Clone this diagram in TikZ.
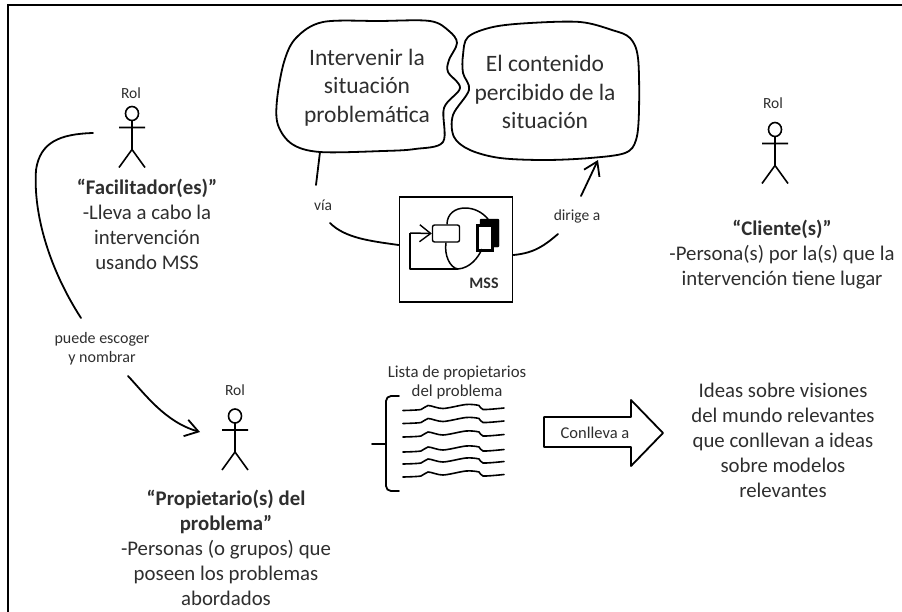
\documentclass[tikz,border=0pt]{standalone}
\usepackage{fontspec}
\setmainfont{Carlito}
\usetikzlibrary{arrows.meta}
\definecolor{ink}{HTML}{2E2E2E}
\tikzset{
  txt/.style={text=ink,align=center,inner sep=0pt,font=\fontsize{20.8}{25}\selectfont},
  big/.style={text=ink,align=center,inner sep=0pt,font=\fontsize{23.5}{28.5}\selectfont},
  small/.style={text=ink,align=center,inner sep=0pt,font=\fontsize{16}{19}\selectfont},
  rol/.style={text=ink,inner sep=0pt,font=\fontsize{15.5}{17}\selectfont},
  pen/.style={draw=black,line width=1.8pt,line join=round,line cap=round},
  barb/.style={-{Straight Barb[length=13pt,width=17pt,line width=1.8pt]}},
  actor/.pic={
    \draw[line width=1.6pt,fill=white] (0,0) circle[x radius=6.5,y radius=7];
    \draw[line width=1.6pt] (0,7)--(0,36) (-13,14)--(13,14) (-13,54)--(0,36)--(13,54);
  },
  wave/.pic={
    \draw[line width=1.6pt,line cap=round] plot[smooth,tension=0.5] coordinates {(0,0)(18,-1)(25,-5)(40,-2)(63,-6)(76,-5)(80,-1)(101,-2.5)};
  }
}
\begin{document}
\begin{tikzpicture}[x=1pt,y=-1pt]
\useasboundingbox (0,0) rectangle (902,611);
% frame
\coordinate (frameTL) at (8,5);
\coordinate (frameTR) at (902,5);
\coordinate (frameBL) at (8,611);
\draw[line width=2pt,line cap=rect] (frameBL)--(frameTL)--(frameTR);

% bubbles
\draw[pen] plot[smooth cycle,tension=0.55] coordinates {(323,22)(380,21)(430,21)(449,31)(457,43)(449,60)(448,72)(460,88)(444,108)(443,142)(415,149)(383,151)(320,152)(292,144)(278,125)(277,100)(284,62)(296,38)};
\draw[pen] plot[smooth cycle,tension=0.55] coordinates {(468,37)(493,27)(530,23)(580,22)(612,30)(630,38)(638,58)(639,110)(636,140)(625,153)(590,158)(545,160)(500,158)(470,150)(454,137)(453,115)(469,90)(463,73)(463,55)};
\node[big] (bubbleA) at (367,87.5) {Intervenir la\\situación\\problemática};
\node[big] (bubbleB) at (545,92) {El contenido\\percibido de la\\situación};
\coordinate (bubbleAout) at (320,152);
\coordinate (bubbleBin) at (598,160);

% MSS box
\node[draw=black,line width=1.8pt,minimum width=113pt,minimum height=105pt,inner sep=0pt] (mss) at (456,249.5) {};
\node[inner sep=0pt,font=\bfseries\fontsize{16}{18}\selectfont,text=ink] (msslabel) at (484,283) {MSS};
\node[draw=black,line width=1.4pt,rounded corners=2pt,fill=white,minimum width=27pt,minimum height=17pt,inner sep=0pt] (proc) at (446,233.5) {};
\node[draw=black,fill=black,rounded corners=1pt,minimum width=19pt,minimum height=28pt,inner sep=0pt] (docback) at (489.5,233) {};
\node[draw=black,line width=2.6pt,fill=white,minimum width=15pt,minimum height=25pt,inner sep=0pt] (docfront) at (485,238) {};
\coordinate (loopa) at (458,269);
\draw[line width=1.5pt,line join=round] (loopa)--(410,269)--(410,233);
\draw[line width=1.5pt,-{Straight Barb[length=11pt,width=17pt,line width=1.4pt]}] (410,233)--(proc.west);
\draw[line width=1.5pt] (proc.north) ++(1,0) .. controls (447,214) and (455,208) .. (465,208) .. controls (474,208) and (482,212) .. (488,219);
\draw[line width=1.5pt] (proc.south) .. controls (444,255) and (450,268) .. (loopa) .. controls (470,268) and (478,258) .. (482,249);

% connectors
\node[rol] (via) at (323,205) {vía};
\node[rol] (dirige) at (577,216) {dirige a};
\coordinate (viaEnd) at (316,185);
\coordinate (viaStart) at (330,223);
\coordinate (dirEnd) at (558,234);
\coordinate (dirStart) at (581,196);
\draw[pen] (bubbleAout)--(viaEnd);
\draw[pen] (viaStart) .. controls (345,238) and (370,241) .. (mss.west |- 0,245);
\draw[pen] (mss.east |- 0,255) .. controls (535,253) and (545,245) .. (dirEnd);
\draw[pen,barb] (dirStart)--(bubbleBin);

% actors
\pic at (132,113.5) {actor};
\pic at (775,129.5) {actor};
\pic at (235,416) {actor};
\node[rol] (rolF) at (131,93) {Rol};
\node[rol] (rolC) at (773,103) {Rol};
\node[rol] (rolP) at (235,390) {Rol};
\node[txt] (fac) at (147,224.5) {\textbf{“Facilitador(es)”}\\-Lleva a cabo la\\intervención\\usando MSS};
\node[txt] (cli) at (782,255) {\textbf{“Cliente(s)”}\\-Persona(s) por la(s) que la\\intervención tiene lugar};
\node[txt] (pro) at (226,547.5) {\textbf{“Propietario(s) del}\\\textbf{problema”}\\-Personas (o grupos) que\\poseen los problemas\\abordados};

% facilitator to owner
\node[small] (puede) at (102,348.5) {puede escoger\\y nombrar};
\coordinate (facOut) at (93,133);
\coordinate (puedeIn) at (81,318);
\coordinate (puedeOut) at (128,376);
\coordinate (proIn) at (200,432);
\draw[pen] (facOut) .. controls (60,134) and (40,142) .. (36,170) .. controls (33,215) and (50,270) .. (puedeIn);
\draw[pen,barb] (puedeOut) .. controls (145,394) and (165,422) .. (proIn);

% list
\node[small,font=\fontsize{16.8}{19}\selectfont] (lista) at (457,382.5) {Lista de propietarios\\del problema};
\draw[pen,rounded corners=5pt] (399,396)--(386,396)--(386,444)--(386,491)--(399,491);
\coordinate (braceTip) at (372,444);
\draw[pen] (braceTip)--(386,444);
\pic at (403,410.5) {wave};
\pic at (403,423.5) {wave};
\pic at (403,437) {wave};
\pic at (403,452) {wave};
\pic at (403,464) {wave};
\pic at (403,477) {wave};

% block arrow
\draw[pen,fill=white,line cap=butt] (544,417)--(631,417)--(631,400)--(663,433)--(631,466)--(631,447)--(544,447)--cycle;
\node[small,font=\fontsize{16.5}{19}\selectfont] (conlleva) at (595,433) {Conlleva a};

\node[txt] (ideas) at (783,440) {Ideas sobre visiones\\del mundo relevantes\\que conllevan a ideas\\sobre modelos\\relevantes};
\end{tikzpicture}
\end{document}
